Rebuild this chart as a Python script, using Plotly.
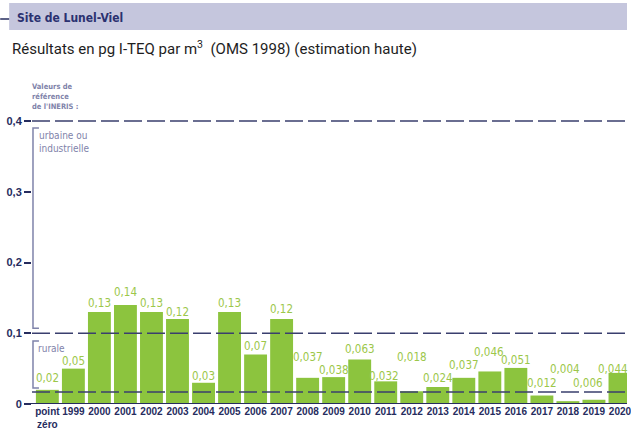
import plotly.graph_objects as go

# Annual dioxin results (pg I-TEQ/m3), Lunel-Viel site
categories = ["point zéro", "1999", "2000", "2001", "2002", "2003", "2004", "2005",
              "2006", "2007", "2008", "2009", "2010", "2011", "2012", "2013",
              "2014", "2015", "2016", "2017", "2018", "2019", "2020"]
values = [0.02, 0.05, 0.13, 0.14, 0.13, 0.12, 0.03, 0.13, 0.07, 0.12, 0.037, 0.038,
          0.063, 0.032, 0.018, 0.024, 0.037, 0.046, 0.051, 0.012, 0.004, 0.006, 0.044]
tick_labels = ["point<br>zéro"] + categories[1:]

y_ticks = [0, 0.1, 0.2, 0.3, 0.4]
y_tick_labels = ["0", "0,1", "0,2", "0,3", "0,4"]

# INERIS reference bands
urban_band = [0.107, 0.39]
rural_band = [0.0226, 0.089]
ref_lines = [0.4, 0.1, 0.017]

# label placement tweaks (pixels above bar top, horizontal nudge)
label_lift = [12, 8, 9, 13, 9, 7, 7, 9, 8.5, 10, 21, 7, 10.5, 5, 34, 9, 13, 19.5, 8, 12.5, 32, 17, 4]
label_nudge = [0, 0, 0, 0, 0, 0, 0, 0, 0, 0, 0, 0, 0, -2, 0, 0, 0, -1, 0, 0, -3, -6, -7]

W, H = 631, 433
ML, MR, MT, MB = 32, 0, 110, 29
PW, PH = W - ML - MR, H - MT - MB

NAVY = "#262c5e"
LINE = "#3a3f6e"
GREYBLUE = "#7f83aa"
BAR = "#8cc43e"
LABEL = "#9cc74a"
COND = "DejaVu Sans Condensed, Liberation Sans Narrow, Liberation Sans, sans-serif"
SANS = "Liberation Sans, Arial, sans-serif"


def px_x(px):
    return (px - ML) / PW


def px_y(py):
    return (H - MB - py) / PH


def fr(v):
    return repr(v).replace(".", ",")


idx = list(range(len(categories)))

fig = go.Figure(go.Bar(
    x=idx, y=values, marker=dict(color=BAR, line=dict(width=0)),
    width=0.88, customdata=categories, hovertemplate="%{customdata}: %{y}<extra></extra>",
))

shapes = []
# header band
shapes.append(dict(type="rect", xref="paper", yref="paper",
                   x0=px_x(9), x1=px_x(631), y0=px_y(30), y1=px_y(3),
                   fillcolor="#c5c6dd", line=dict(width=0), layer="below"))
shapes.append(dict(type="line", xref="paper", yref="paper",
                   x0=px_x(0), x1=px_x(9), y0=px_y(19), y1=px_y(19),
                   line=dict(color=NAVY, width=1.5)))
# reference lines
for v in ref_lines:
    shapes.append(dict(type="line", xref="paper", yref="y", x0=0, x1=1, y0=v, y1=v,
                       line=dict(color=LINE, width=1.4, dash="18px,5px"), layer="above"))
# baseline
shapes.append(dict(type="line", xref="paper", yref="y", x0=px_x(24), x1=1, y0=0, y1=0,
                   line=dict(color=NAVY, width=2), layer="above"))
# brackets
for lo, hi in (urban_band, rural_band):
    xa, xb = px_x(33), px_x(39)
    shapes.append(dict(type="path", xref="paper", yref="y",
                       path=f"M {xb},{hi} L {xa},{hi} L {xa},{lo} L {xb},{lo}",
                       line=dict(color=GREYBLUE, width=1.5)))

annotations = []
annotations.append(dict(text="<b>Site de Lunel-Viel</b>", xref="paper", yref="paper",
                        x=px_x(15), y=px_y(18), xanchor="left", yanchor="middle",
                        showarrow=False, font=dict(family=COND, size=12, color="#2b3170")))
annotations.append(dict(text="Résultats en pg I-TEQ par m<sup>3</sup>  (OMS 1998) (estimation haute)",
                        xref="paper", yref="paper", x=px_x(10), y=px_y(48),
                        xanchor="left", yanchor="middle", showarrow=False,
                        font=dict(family="Roboto, sans-serif", size=15, color="#1e1e1e")))
annotations.append(dict(text="<b>Valeurs de<br>référence<br>de l'INERIS :</b>",
                        xref="paper", yref="paper", x=px_x(30), y=px_y(80),
                        xanchor="left", yanchor="top", align="left", showarrow=False,
                        font=dict(family=COND, size=7.5, color=GREYBLUE)))
annotations.append(dict(text="urbaine ou<br>industrielle", xref="paper", yref="y",
                        x=px_x(37), y=urban_band[1], xanchor="left", yanchor="top",
                        align="left", showarrow=False,
                        font=dict(family=COND, size=10, color=GREYBLUE)))
annotations.append(dict(text="rurale", xref="paper", yref="y",
                        x=px_x(36), y=rural_band[1], xanchor="left", yanchor="top",
                        align="left", showarrow=False,
                        font=dict(family=COND, size=10, color=GREYBLUE)))
for i, v, lift, nudge in zip(idx, values, label_lift, label_nudge):
    annotations.append(dict(text=fr(v), x=i, y=v, xref="x", yref="y",
                            yshift=lift, xshift=nudge, xanchor="center", yanchor="middle",
                            showarrow=False,
                            font=dict(family=COND, size=11.5, color=LABEL)))

fig.update_layout(
    width=W, height=H,
    margin=dict(l=ML, r=MR, t=MT, b=MB, pad=0),
    paper_bgcolor="white", plot_bgcolor="white",
    showlegend=False, bargap=0.12,
    shapes=shapes, annotations=annotations,
    xaxis=dict(type="linear", range=[-0.59, 22.27], tickmode="array",
               tickvals=idx, ticktext=tick_labels, tickangle=0,
               ticklabeloverflow="allow",
               showgrid=False, showline=False, zeroline=False, ticks="",
               tickfont=dict(family=SANS, size=10, color=NAVY, weight="bold")),
    yaxis=dict(range=[0, PH / 707.5], tickmode="array", tickvals=y_ticks,
               ticktext=y_tick_labels, ticks="outside", ticklen=7, tickwidth=1.5,
               tickcolor=NAVY, showgrid=False, showline=False, zeroline=False,
               tickfont=dict(family=SANS, size=11, color=NAVY, weight="bold")),
)

fig.write_html("out.html")
